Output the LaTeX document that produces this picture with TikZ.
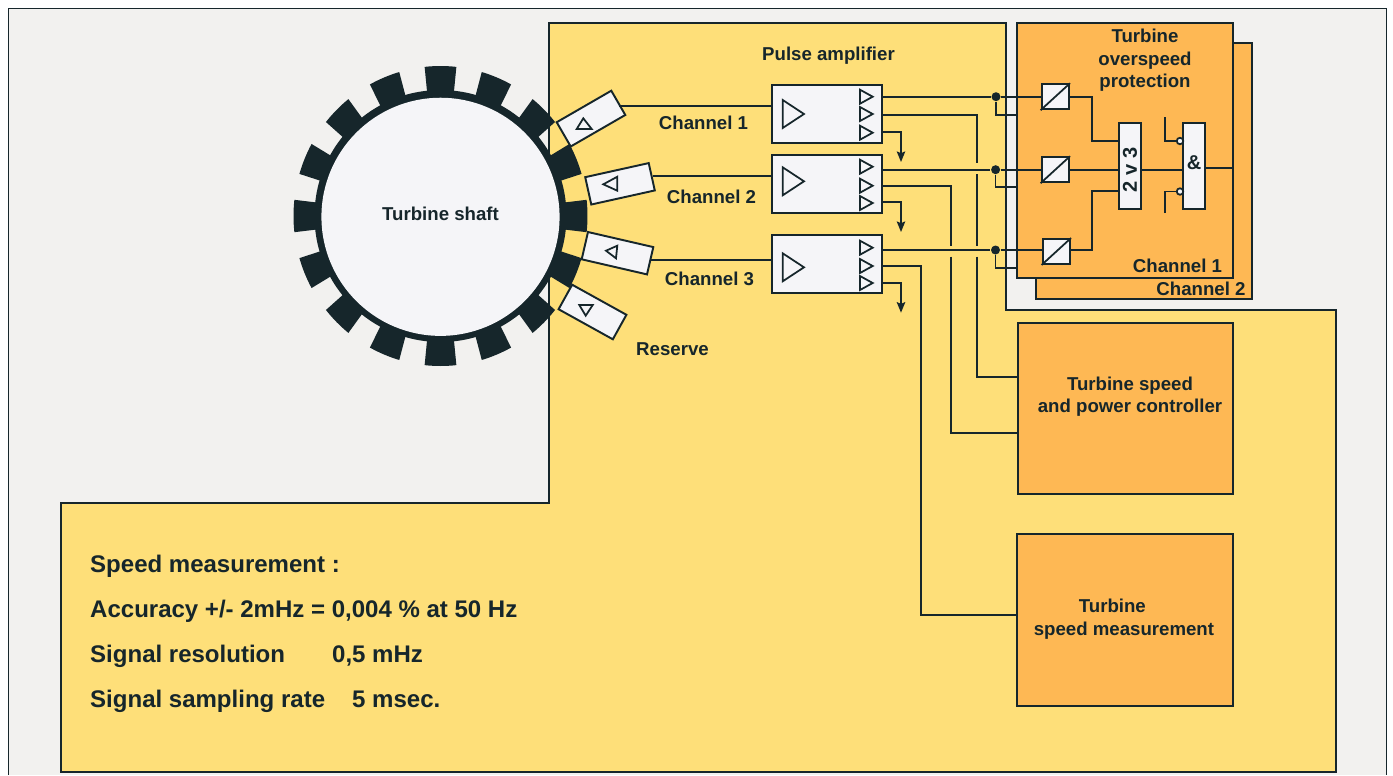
\documentclass[tikz,border=0pt]{standalone}
\usepackage{fontspec}
\setmainfont{Liberation Sans}
\usetikzlibrary{arrows.meta}
\definecolor{inkdark}{HTML}{16262B}
\definecolor{paneback}{HTML}{F2F1EF}
\definecolor{yellowpane}{HTML}{FEDF79}
\definecolor{orangebox}{HTML}{FEB854}
\definecolor{unitfill}{HTML}{F5F5F8}
\tikzset{
  wire/.style={draw=inkdark, line width=0.5pt},
  pane/.style={draw=inkdark, line width=0.55pt, fill=yellowpane},
  orangeunit/.style={draw=inkdark, line width=0.55pt, fill=orangebox},
  unit/.style={draw=inkdark, line width=0.55pt, fill=unitfill, inner sep=0pt},
  ampbox/.style={unit, minimum width=1.10cm, minimum height=0.58cm},
  sensor/.style={unit, minimum width=0.63cm, minimum height=0.28cm},
  conv/.style={unit, minimum width=0.275cm, minimum height=0.25cm},
  logicbox/.style={unit, minimum width=0.22cm, minimum height=0.855cm, text=inkdark, font=\bfseries\fontsize{5.7}{6.4}\selectfont},
  glyph/.style={draw=inkdark, line width=0.5pt, fill=unitfill},
  junction/.style={circle, fill=inkdark, inner sep=0pt, minimum size=0.09cm},
  invert/.style={circle, draw=inkdark, line width=0.5pt, fill=unitfill, inner sep=0pt, minimum size=0.065cm},
  lbl/.style={text=inkdark, inner sep=0pt, font=\bfseries\fontsize{5.3}{6.4}\selectfont},
  biglbl/.style={text=inkdark, inner sep=0pt, anchor=west, font=\bfseries\fontsize{6.83}{8}\selectfont},
  arrowdown/.style={wire, -{Stealth[length=3pt, width=2.4pt, inset=0.5pt]}}
}
\begin{document}
\begin{tikzpicture}[x=0.01cm, y=-0.01cm]
    \useasboundingbox (0,0) rectangle (1393,775);
    % backgrounds
    \fill[paneback] (8.5,775) -- (8.5,8.5) -- (1386.5,8.5) -- (1386.5,775) -- cycle;
    \draw[inkdark, line width=0.45pt] (8.5,775) -- (8.5,8.5) -- (1386.5,8.5) -- (1386.5,775);
    \draw[pane] (549,23) -- (1006,23) -- (1006,310) -- (1336,310) -- (1336,772) -- (61,772) -- (61,503) -- (549,503) -- cycle;

    % shaft
    \coordinate (hub) at (440.5,216);
    \fill[inkdark] (hub) circle (126);
    \begin{scope}[shift={(hub)}]
      \foreach \a in {0,22.5,...,337.5}
        \fill[inkdark] (\a-6.2:120) -- (\a-6.2:147 and 150) arc[start angle=\a-6.2, end angle=\a+6.2, x radius=147, y radius=150] -- (\a+6.2:120) -- cycle;
    \end{scope}
    \node[circle, fill=unitfill, minimum size=2.38cm, inner sep=0pt] (shaft) at (440.5,216.8) {};
    \node[lbl] (shaftlabel) at (440.5,214) {Turbine shaft};

    % sensors
    \node[sensor, rotate=30] (sens1) at (591,118.6) {};
    \node[sensor, rotate=12.5, minimum width=0.65cm] (sens2) at (620,183.8) {};
    \node[sensor, rotate=-13, minimum width=0.67cm] (sens3) at (617.5,253.2) {};
    \node[sensor, rotate=-29, minimum width=0.62cm] (sens4) at (592.5,312) {};
    \draw[glyph] (576.7,129) -- (591.7,129) -- (583.3,118.3) -- cycle;
    \draw[glyph] (603.3,184.3) -- (617.3,176.7) -- (617.3,190.7) -- cycle;
    \draw[glyph] (606,250.7) -- (617.3,245.7) -- (616,258.3) -- cycle;
    \draw[glyph] (579.3,305) -- (592.7,305) -- (585.7,315.7) -- cycle;

    % amplifiers
    \node[ampbox] (amp1) at (827,114) {};
    \node[ampbox] (amp2) at (827,184) {};
    \node[ampbox] (amp3) at (827,264) {};
    \foreach \y in {114,181.3,267.3}
      \draw[glyph, fill=none] (782.7,\y-14) -- (804,\y) -- (782.7,\y+14) -- cycle;
    \foreach \y in {96.7,114,132.7,166.7,185.7,203,247.7,266,283}
      \draw[glyph, fill=none] (860,\y-7) -- (872.7,\y) -- (860,\y+7) -- cycle;
    \draw[wire] (sens1.east |- 0,106) -- (amp1.west |- 0,106);
    \draw[wire] (sens2.east |- 0,176) -- (amp2.west |- 0,176);
    \draw[wire] (sens3.east |- 0,259.7) -- (amp3.west |- 0,259.7);

    % right hand boxes
    \draw[orangeunit] (1036,43) rectangle (1252,299);
    \draw[orangeunit] (1017,23) rectangle (1233,278);
    \node[orangeunit, inner sep=0pt, minimum width=2.15cm, minimum height=1.71cm] (ctrlbox) at (1125.5,408.5) {};
    \node[orangeunit, inner sep=0pt, minimum width=2.16cm, minimum height=1.72cm] (measbox) at (1125,620) {};

    % protection logic
    \node[conv] (conv1) at (1055.3,96.7) {};
    \node[conv] (conv2) at (1055.3,169.7) {};
    \node[conv] (conv3) at (1056.3,251.5) {};
    \foreach \c in {conv1,conv2,conv3}
      \draw[wire] (\c.south west) -- (\c.north east);
    \node[logicbox] (vote) at (1130,166) {\rotatebox{90}{2 v 3\hspace{2.2pt}}};
    \node[logicbox] (andgate) at (1194,166) {\raisebox{1.7pt}{\&}};
    \node[invert] (inv1) at (1180,141) {};
    \node[invert] (inv2) at (1180,191.5) {};
    \draw[wire] (conv1.east) -- (1092.3,96.7) |- (vote.west |- 0,141);
    \draw[wire] (conv2.east) -- (vote.west |- conv2);
    \draw[wire] (conv3.east |- 0,250) -- (1092.3,250) |- (vote.west |- 0,191);
    \draw[wire] (vote.east |- conv2) -- (andgate.west |- conv2);
    \draw[wire] (1165.3,117) |- (inv1);
    \draw[wire] (1165.3,213) |- (inv2);
    \draw[wire] (andgate.east |- 0,168) -- (1233,168);

    % amplifier outputs
    \node[junction] (dot1) at (996,96.7) {};
    \node[junction] (dot2) at (995.6,169.7) {};
    \node[junction] (dot3) at (995.5,250) {};
    \draw[wire] (amp1.east |- dot1) -- (dot1) -- (conv1);
    \draw[wire] (amp2.east |- dot2) -- (dot2) -- (conv2);
    \draw[wire] (amp3.east |- dot3) -- (dot3) -- (conv3.west |- dot3);
    \draw[wire] (dot1) |- (1018,115.3);
    \draw[wire] (dot2) |- (1018,187.3);
    \draw[wire] (dot3) |- (1018,267.7);

    \draw[wire] (amp1.east |- 0,115.3) -| (977,163);
    \draw[wire] (977,174) -- (977,245.7);
    \draw[wire] (977,256.7) |- (ctrlbox.west |- 0,377);
    \draw[wire] (amp2.east |- 0,186) -| (951,245.7);
    \draw[wire] (951,256.7) |- (ctrlbox.west |- 0,433);
    \draw[wire] (amp3.east |- 0,265.7) -| (921.3,615) -- (measbox.west |- 0,615);

    \draw[arrowdown] (amp1.east |- 0,132) -| (901,162);
    \draw[arrowdown] (amp2.east |- 0,201.7) -| (901,232);
    \draw[arrowdown] (amp3.east |- 0,282.7) -| (901,312.7);

    % labels
    \node[lbl] (pulselabel) at (828.5,56) {Pulse amplifier};
    \node[lbl] (ch1label) at (703.5,123) {Channel 1};
    \node[lbl] (ch2label) at (711.5,197) {Channel 2};
    \node[lbl] (ch3label) at (709.5,279) {Channel 3};
    \node[lbl] (reslabel) at (672.5,349) {Reserve};
    \node[lbl, align=center] (protlabel) at (1145,60.5) {Turbine\\overspeed\\protection};
    \node[lbl] (prot1label) at (1177.5,266) {Channel 1};
    \node[lbl] (prot2label) at (1201,288.5) {Channel 2};
    \node[lbl, align=center] (ctrllabel) at (1130,396.5) {Turbine speed\\and power controller};
    \node[lbl, align=left] (measlabel) at (1124,619) {\hspace*{12.8pt}Turbine\\speed measurement};

    \node[biglbl] (spec1) at (89.5,566) {Speed measurement :};
    \node[biglbl] (spec2) at (89.5,611) {Accuracy +/- 2mHz = 0,004 \% at 50 Hz};
    \node[biglbl] (spec3) at (89.5,656) {Signal resolution\hspace{13.4pt}0,5 mHz};
    \node[biglbl] (spec4) at (89.5,701) {Signal sampling rate\hspace{7.7pt}5 msec.};
\end{tikzpicture}
\end{document}
